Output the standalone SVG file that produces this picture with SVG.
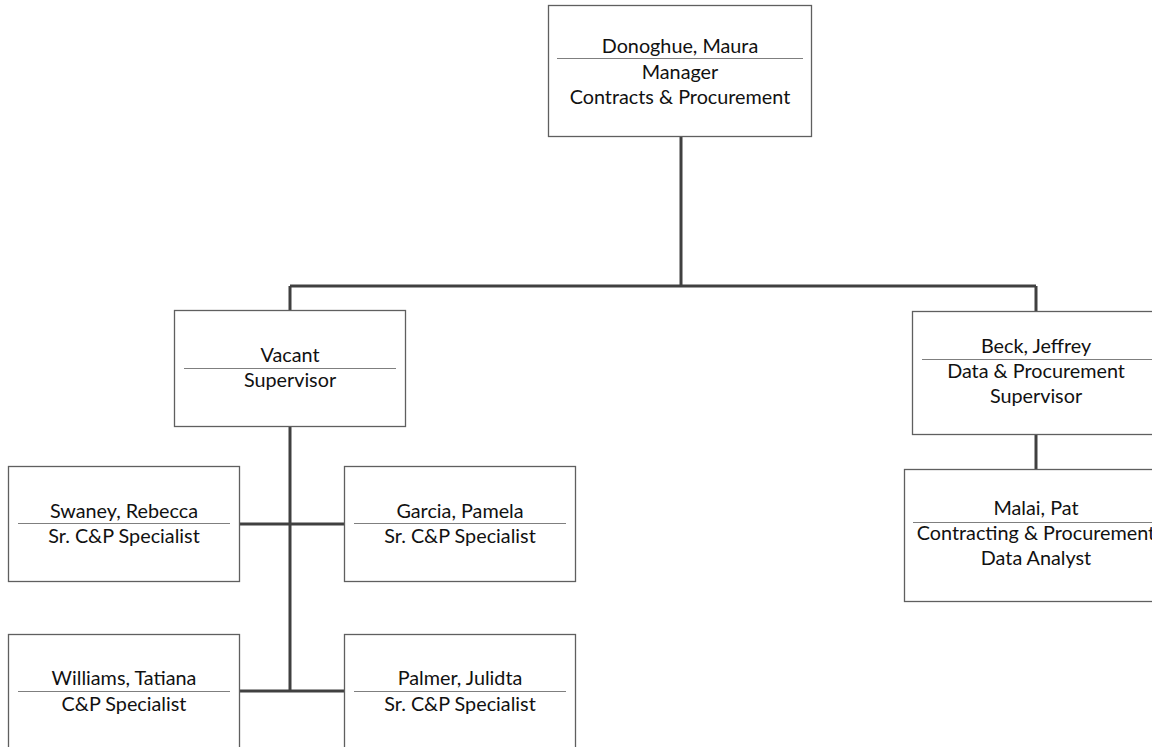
<svg xmlns="http://www.w3.org/2000/svg" width="1152" height="747" viewBox="0 0 1152 747">
<style>
.box{fill:#ffffff;stroke:#5f5f5f;stroke-width:1.3}
.div{stroke:#7f7f7f;stroke-width:1.2}
.t{font-family:Lato,"Liberation Sans",sans-serif;font-size:19.8px;fill:#111;text-anchor:middle}
.c{fill:none;stroke:#404040;stroke-width:3}
</style>
<rect width="1152" height="747" fill="#ffffff"/>
<g id="connectors">
<path class="c" d="M681,137 V286 M290,286 H1036 M290,286 V310 M1036,286 V311"/>
<path class="c" d="M290,426 V691 M239,524 H344 M239,691 H344"/>
<path class="c" d="M1036,434 V469"/>
</g>
<g id="node-donoghue">
<rect class="box" x="548.5" y="5.5" width="263" height="131"/>
<line class="div" x1="557" y1="58.5" x2="803" y2="58.5"/>
<text class="t" x="680" y="53">Donoghue, Maura</text>
<text class="t" x="680" y="79">Manager</text>
<text class="t" x="680" y="104">Contracts &amp; Procurement</text>
</g>
<g id="node-vacant">
<rect class="box" x="174.5" y="310.5" width="231" height="116"/>
<line class="div" x1="184" y1="368.5" x2="396" y2="368.5"/>
<text class="t" x="290" y="362">Vacant</text>
<text class="t" x="290" y="387">Supervisor</text>
</g>
<g id="node-beck">
<rect class="box" x="912.5" y="311.5" width="248" height="123"/>
<line class="div" x1="922" y1="359.5" x2="1152" y2="359.5"/>
<text class="t" x="1036" y="353">Beck, Jeffrey</text>
<text class="t" x="1036" y="378">Data &amp; Procurement</text>
<text class="t" x="1036" y="403">Supervisor</text>
</g>
<g id="node-malai">
<rect class="box" x="904.5" y="469.5" width="264" height="132"/>
<line class="div" x1="913" y1="522.5" x2="1152" y2="522.5"/>
<text class="t" x="1036" y="515">Malai, Pat</text>
<text class="t" x="1036" y="540">Contracting &amp; Procurement</text>
<text class="t" x="1036" y="565">Data Analyst</text>
</g>
<g id="node-swaney">
<rect class="box" x="8.5" y="466.5" width="231" height="115"/>
<line class="div" x1="18" y1="523.5" x2="230" y2="523.5"/>
<text class="t" x="124" y="518">Swaney, Rebecca</text>
<text class="t" x="124" y="543">Sr. C&amp;P Specialist</text>
</g>
<g id="node-garcia">
<rect class="box" x="344.5" y="466.5" width="231" height="115"/>
<line class="div" x1="354" y1="523.5" x2="566" y2="523.5"/>
<text class="t" x="460" y="518">Garcia, Pamela</text>
<text class="t" x="460" y="543">Sr. C&amp;P Specialist</text>
</g>
<g id="node-williams">
<rect class="box" x="8.5" y="634.5" width="231" height="130"/>
<line class="div" x1="18" y1="691.5" x2="230" y2="691.5"/>
<text class="t" x="124" y="685">Williams, Tatiana</text>
<text class="t" x="124" y="711">C&amp;P Specialist</text>
</g>
<g id="node-palmer">
<rect class="box" x="344.5" y="634.5" width="231" height="130"/>
<line class="div" x1="354" y1="691.5" x2="566" y2="691.5"/>
<text class="t" x="460" y="685">Palmer, Julidta</text>
<text class="t" x="460" y="711">Sr. C&amp;P Specialist</text>
</g>
</svg>
